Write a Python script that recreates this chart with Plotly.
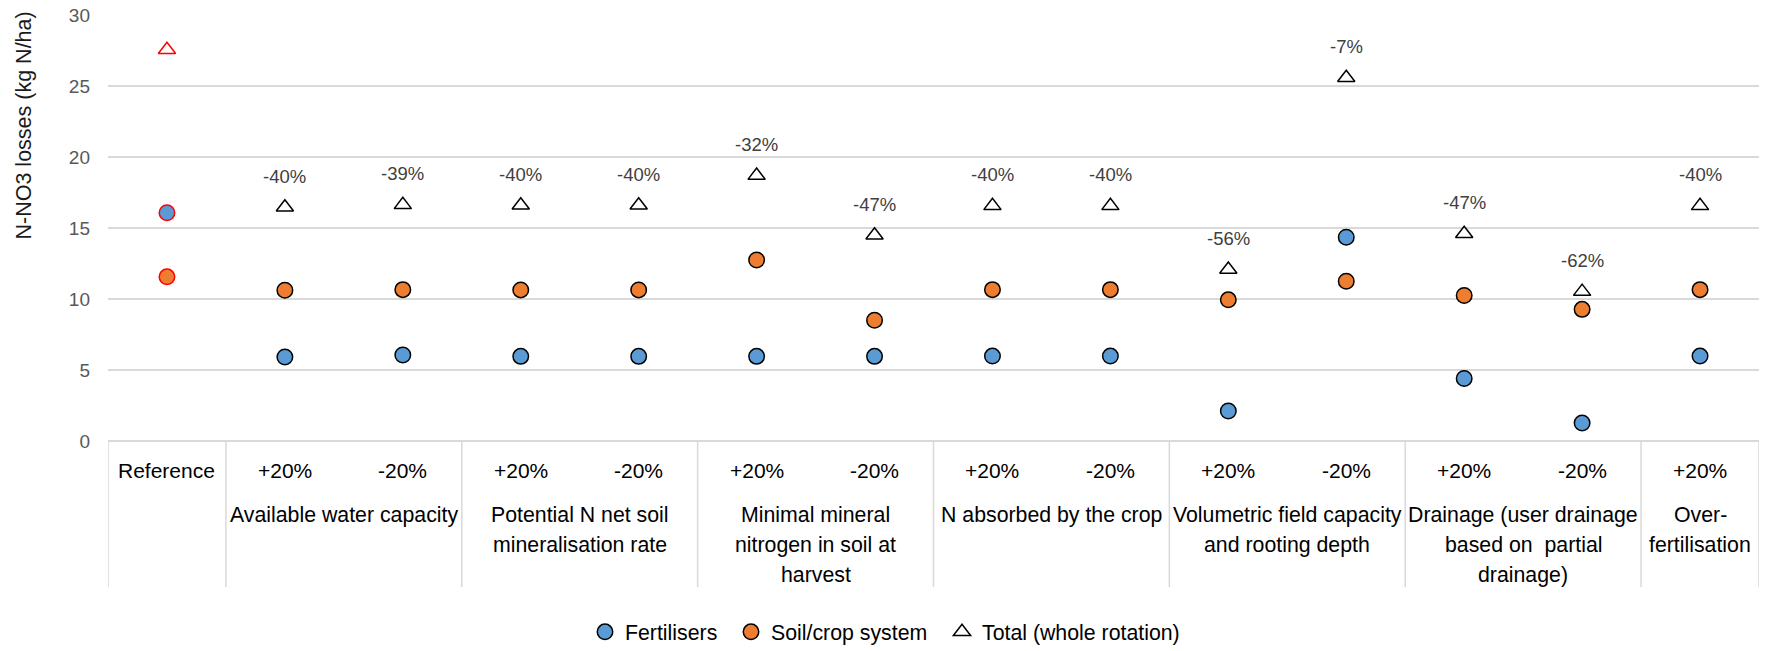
import plotly.graph_objects as go

# ---------------- data ----------------
categories = ["Reference", "+20%", "-20%", "+20%", "-20%", "+20%", "-20%",
              "+20%", "-20%", "+20%", "-20%", "+20%", "-20%", "+20%"]
groups = ["", "Available water capacity",
          "Potential N net soil\nmineralisation rate",
          "Minimal mineral\nnitrogen in soil at\nharvest",
          "N absorbed by the crop",
          "Volumetric field capacity\nand rooting depth",
          "Drainage (user drainage\nbased on  partial\ndrainage)",
          "Over-\nfertilisation"]
group_sizes = [1, 2, 2, 2, 2, 2, 2, 1]

fertilisers = [16.07, 5.92, 6.06, 5.96, 5.96, 5.96, 5.96, 5.98, 5.98, 2.11, 14.35, 4.40, 1.27, 5.98]
soil_crop = [11.56, 10.62, 10.66, 10.64, 10.64, 12.75, 8.50, 10.66, 10.66, 9.94, 11.25, 10.25, 9.27, 10.66]
total = [27.55, 16.46, 16.63, 16.60, 16.60, 18.69, 14.49, 16.56, 16.56, 12.08, 25.58, 14.60, 10.52, 16.56]
change_labels = ["", "-40%", "-39%", "-40%", "-40%", "-32%", "-47%", "-40%", "-40%",
                 "-56%", "-7%", "-47%", "-62%", "-40%"]

# ---------------- style ----------------
FONT = "Liberation Sans, Arial, sans-serif"
BLUE = "#5B9BD5"
ORANGE = "#ED7D31"
GRID = "#D9D9D9"
W, H = 1776, 651
ML, MR, MT, MB = 108, 17, 15, 210
plot_h = H - MT - MB
plot_w = W - ML - MR


def py(pixel_y):
    """pixel y (from top) -> paper y"""
    return (H - MB - pixel_y) / plot_h


def px(pixel_x):
    return (pixel_x - ML) / plot_w


x = list(range(len(categories)))
ref_idx = [0]
oth_idx = x[1:]

fig = go.Figure()

series = [
    ("Fertilisers", fertilisers, BLUE, "circle", 15.5, "legend", 585),
    ("Soil/crop system", soil_crop, ORANGE, "circle", 15.5, "legend2", 731),
    ("Total (whole rotation)", total, "white", "triangle-up", 15, "legend3", 942),
]
for name, vals, col, sym, size, leg, _ in series:
    fig.add_trace(go.Scatter(
        x=[x[i] for i in oth_idx], y=[vals[i] for i in oth_idx],
        mode="markers", name=name, legend=leg,
        marker=dict(symbol=sym, size=size, color=col,
                    line=dict(color="black", width=1.5)),
        cliponaxis=False,
    ))
for name, vals, col, sym, size, leg, _ in series:
    fig.add_trace(go.Scatter(
        x=[x[i] for i in ref_idx], y=[vals[i] for i in ref_idx],
        mode="markers", name=name, showlegend=False, legend=leg,
        marker=dict(symbol=sym, size=size, color=col,
                    line=dict(color="#FF0000", width=1.5)),
        cliponaxis=False,
    ))

annotations = []
# percentage labels above total markers
for i in x:
    if change_labels[i]:
        annotations.append(dict(
            x=x[i], y=total[i], xref="x", yref="y", text=change_labels[i],
            showarrow=False, yshift=31, yanchor="middle",
            font=dict(family=FONT, size=18.5, color="#404040")))

# level-1 category labels
for i in x:
    annotations.append(dict(
        x=x[i], y=py(471), xref="x", yref="paper", text=categories[i],
        showarrow=False, yanchor="middle", xanchor="center",
        font=dict(family=FONT, size=21, color="#000000")))

# group labels and separators
shapes = []
start = 0
bounds = [-0.5]
for g, n in zip(groups, group_sizes):
    center = start + (n - 1) / 2
    for k, line in enumerate(g.split("\n") if g else []):
        annotations.append(dict(
            x=center, y=py(515 + 30 * k), xref="x", yref="paper", text=line,
            showarrow=False, yanchor="middle", xanchor="center",
            font=dict(family=FONT, size=21.3, color="#000000")))
    start += n
    bounds.append(start - 0.5)

for b in bounds:
    shapes.append(dict(type="line", xref="x", yref="paper", x0=b, x1=b,
                       y0=0, y1=py(587), line=dict(color=GRID, width=1.5),
                       layer="below"))

# y-axis title
annotations.append(dict(
    x=px(23.5), y=py(126), xref="paper", yref="paper",
    text="N-NO3 losses (kg N/ha)", textangle=-90, showarrow=False,
    xanchor="center", yanchor="middle",
    font=dict(family=FONT, size=21.5, color="#1a1a1a")))

legend_common = dict(orientation="h", xref="container", yref="container",
                     xanchor="left", y=1 - 632 / H, yanchor="middle",
                     font=dict(family=FONT, size=21.3, color="#000000"),
                     itemsizing="trace", bgcolor="rgba(0,0,0,0)", borderwidth=0)
legends = {}
for _, _, _, _, _, leg, left in series:
    legends[leg] = dict(legend_common, x=left / W)

fig.update_layout(
    template="none",
    width=W, height=H,
    margin=dict(l=ML, r=MR, t=MT, b=MB, pad=0, autoexpand=False),
    paper_bgcolor="white", plot_bgcolor="white",
    font=dict(family=FONT, color="#000000"),
    xaxis=dict(range=[-0.5, len(categories) - 0.5], showgrid=False,
               zeroline=False, showline=False, showticklabels=False,
               ticks="", fixedrange=True, automargin=False),
    yaxis=dict(range=[0, 30], dtick=5, tick0=0, showgrid=True,
               gridcolor=GRID, gridwidth=1.5, zeroline=True,
               zerolinecolor=GRID, zerolinewidth=1.5, showline=False,
               ticks="", ticklabelstandoff=17, automargin=False,
               tickfont=dict(family=FONT, size=19, color="#595959"),
               fixedrange=True),
    showlegend=True,
    annotations=annotations,
    shapes=shapes,
    **legends,
)

fig.write_html(
    "out.html",
    config={"displayModeBar": False, "staticPlot": True},
    post_script="document.body.style.margin='0';document.body.style.overflow='hidden';",
)
